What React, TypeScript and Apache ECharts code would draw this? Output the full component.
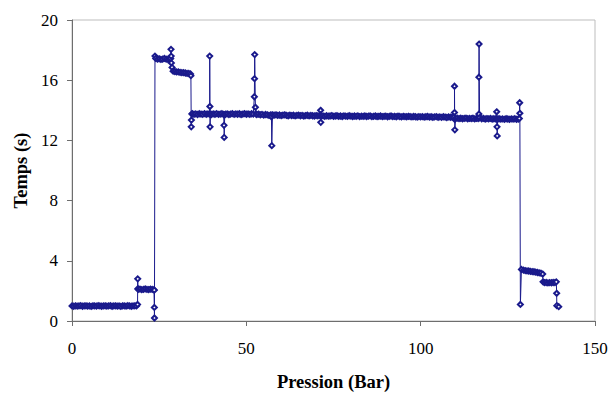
import React, { useEffect, useRef } from "react";
import * as echarts from "echarts";

// [pression (Bar), temps (s)]
const lowPlateau: number[][] = [
  [0, 1.0], [0.5, 0.98], [1, 1.01], [1.5, 0.99], [2, 1.0], [2.5, 1.02], [3, 0.98], [3.5, 1.0], [4, 1.01], [4.5, 0.99],
  [5, 1.0], [5.5, 0.97], [6, 1.01], [6.5, 1.0], [7, 0.99], [7.5, 1.02], [8, 1.0], [8.5, 0.98], [9, 1.0], [9.5, 1.01],
  [10, 0.99], [10.5, 1.0], [11, 1.02], [11.5, 0.98], [12, 1.0], [12.5, 1.01], [13, 0.99], [13.5, 1.0], [14, 0.97], [14.5, 1.01],
  [15, 1.0], [15.5, 0.99], [16, 1.02], [16.5, 1.0], [17, 0.98], [17.5, 1.0], [18, 1.01], [18.5, 1.0], [18.8, 1.1],
];

const secondPlateau: number[][] = [
  [18.85, 2.8], [18.9, 2.15], [19, 2.1], [19.5, 2.12], [20, 2.08], [20.5, 2.1], [21, 2.13], [21.5, 2.1], [22, 2.09],
  [22.5, 2.12], [23, 2.1], [23.5, 2.08], [23.6, 2.05], [23.62, 0.9], [23.65, 0.2],
];

const highPlateau: number[][] = [
  [23.8, 17.6], [24, 17.45], [24.5, 17.4], [25, 17.42], [25.5, 17.38], [26, 17.4], [26.5, 17.45], [27, 17.4], [27.5, 17.38],
  [28, 17.4], [28.3, 17.45], [28.4, 18.05], [28.45, 17.6], [28.5, 17.15], [28.7, 16.85], [29, 16.6],
  [29.5, 16.58], [30, 16.55], [30.5, 16.55], [31, 16.52], [31.5, 16.5], [32, 16.5], [32.5, 16.48], [33, 16.45], [33.5, 16.45],
  [34, 16.42], [34.1, 16.3], [34.2, 12.9], [34.25, 13.35], [34.4, 13.75],
];

const mainPlateauA: number[][] = [
  [34.5, 13.78], [35, 13.74], [35.5, 13.76], [36, 13.72], [36.5, 13.77], [37, 13.75], [37.5, 13.73], [38, 13.78], [38.5, 13.74], [39, 13.76],
  [39.5, 13.75], [39.5, 17.6], [39.55, 14.25], [39.6, 12.9], [39.7, 13.75],
  [40, 13.72], [40.5, 13.76], [41, 13.74], [41.5, 13.78], [42, 13.73], [42.5, 13.75], [43, 13.77], [43.5, 13.72],
  [43.6, 13.0], [43.65, 12.2], [43.8, 13.7],
  [44, 13.74], [44.5, 13.76], [45, 13.72], [45.5, 13.75], [46, 13.78], [46.5, 13.73], [47, 13.76], [47.5, 13.74], [48, 13.77],
  [48.5, 13.72], [49, 13.75], [49.5, 13.78], [50, 13.74], [50.5, 13.76], [51, 13.73], [51.5, 13.77], [52, 13.75],
  [52.3, 14.9], [52.35, 16.1], [52.4, 17.7], [52.6, 14.2], [52.8, 13.75],
  [53, 13.72], [53.5, 13.75], [54, 13.7], [54.5, 13.73], [55, 13.68], [55.5, 13.72], [56, 13.7], [56.5, 13.66], [57, 13.7],
  [57.2, 13.57], [57.3, 11.65], [57.5, 13.7],
];

const mainPlateauB: number[][] = [
  [58, 13.68], [58.5, 13.7], [59, 13.66], [59.5, 13.69], [60, 13.65], [60.5, 13.68], [61, 13.7], [61.5, 13.66], [62, 13.64],
  [62.5, 13.68], [63, 13.65], [63.5, 13.67], [64, 13.63], [64.5, 13.66], [65, 13.68], [65.5, 13.64], [66, 13.66], [66.5, 13.62],
  [67, 13.65], [67.5, 13.67], [68, 13.63], [68.5, 13.66], [69, 13.64], [69.5, 13.62], [70, 13.65], [70.5, 13.63], [71, 13.66],
  [71.3, 14.0], [71.35, 13.2], [71.5, 13.63],
  [72, 13.63], [72.5, 13.6], [73, 13.64], [73.5, 13.61], [74, 13.62], [74.5, 13.65], [75, 13.6], [75.5, 13.62], [76, 13.64], [76.5, 13.6],
  [77, 13.62], [77.5, 13.59], [78, 13.63], [78.5, 13.61], [79, 13.6], [79.5, 13.64], [80, 13.61], [80.5, 13.59], [81, 13.62], [81.5, 13.6],
  [82, 13.63], [82.5, 13.58], [83, 13.61], [83.5, 13.6], [84, 13.62], [84.5, 13.59], [85, 13.61], [85.5, 13.63], [86, 13.58], [86.5, 13.6],
  [87, 13.62], [87.5, 13.59], [88, 13.6], [88.5, 13.62], [89, 13.58], [89.5, 13.6], [90, 13.61], [90.5, 13.57], [91, 13.6], [91.5, 13.62],
  [92, 13.58], [92.5, 13.6], [93, 13.57], [93.5, 13.61], [94, 13.59], [94.5, 13.56], [95, 13.6], [95.5, 13.58], [96, 13.57], [96.5, 13.6],
  [97, 13.58], [97.5, 13.56], [98, 13.59], [98.5, 13.57], [99, 13.55], [99.5, 13.58], [100, 13.56], [100.5, 13.58], [101, 13.55], [101.5, 13.57],
  [102, 13.59], [102.5, 13.55], [103, 13.57], [103.5, 13.54], [104, 13.56], [104.5, 13.58], [105, 13.54], [105.5, 13.56], [106, 13.53], [106.5, 13.57],
  [107, 13.55], [107.5, 13.52], [108, 13.56], [108.5, 13.54], [109, 13.55], [109.5, 13.53],
];

const mainPlateauC: number[][] = [
  [109.7, 13.85], [109.7, 15.6], [109.75, 13.4], [109.8, 12.7], [110, 13.45],
  [110.5, 13.48], [111, 13.45], [111.5, 13.47], [112, 13.44], [112.5, 13.46], [113, 13.48], [113.5, 13.44], [114, 13.46], [114.5, 13.45],
  [115, 13.47], [115.5, 13.43], [116, 13.46], [116.5, 13.45],
  [116.7, 13.75], [116.7, 16.2], [116.75, 18.4], [116.9, 13.5],
  [117.5, 13.44], [118, 13.46], [118.5, 13.42], [119, 13.45], [119.5, 13.43], [120, 13.46], [120.5, 13.42], [121, 13.44], [121.5, 13.43],
  [121.8, 13.9], [121.85, 13.4], [121.9, 12.9], [121.95, 12.3], [122.1, 13.42],
  [122.5, 13.44], [123, 13.41], [123.5, 13.43], [124, 13.4], [124.5, 13.44], [125, 13.42], [125.5, 13.4], [126, 13.43], [126.5, 13.41],
  [127, 13.44], [127.5, 13.4], [128, 13.42], [128.3, 13.45], [128.4, 14.5], [128.45, 13.8], [128.6, 1.1],
];

const tailPlateaus: number[][] = [
  [128.9, 3.43], [129.5, 3.38], [130, 3.35], [130.5, 3.33], [131, 3.32], [131.5, 3.3], [132, 3.28], [132.5, 3.27], [133, 3.25],
  [133.5, 3.22], [134, 3.2], [134.5, 3.18], [135, 3.12], [135.1, 2.6],
  [135.5, 2.55], [136, 2.56], [136.5, 2.53], [137, 2.55], [137.5, 2.54], [138, 2.56], [138.5, 2.55], [138.9, 2.6],
  [139, 1.84], [139.05, 1.02], [139.6, 0.95],
];

const xTicks = { min: 0, max: 150, interval: 50 };
const yTicks = { min: 0, max: 20, interval: 4 };

const seriesData = [
  ...lowPlateau,
  ...secondPlateau,
  ...highPlateau,
  ...mainPlateauA,
  ...mainPlateauB,
  ...mainPlateauC,
  ...tailPlateaus,
];

const SERIF = "'Liberation Serif', 'Times New Roman', serif";

export default function App() {
  const ref = useRef<HTMLDivElement>(null);
  useEffect(() => {
    if (!ref.current) return;
    const chart = echarts.init(ref.current, undefined, { renderer: "svg" });
    chart.setOption({
      animation: false,
      backgroundColor: "#ffffff",
      grid: {
        left: 72,
        right: 14,
        top: 20,
        bottom: 73,
        containLabel: false,
        outerBoundsMode: "none",
        show: true,
        borderColor: "#bdbdbd",
        borderWidth: 1,
        backgroundColor: "transparent",
      },
      xAxis: {
        type: "value",
        min: xTicks.min,
        max: xTicks.max,
        interval: xTicks.interval,
        name: "Pression (Bar)",
        nameLocation: "middle",
        nameGap: 51,
        nameTextStyle: { fontFamily: SERIF, fontSize: 18.5, fontWeight: "bold", color: "#000" },
        axisLine: { show: true, onZero: false, lineStyle: { color: "#6e6e6e", width: 1 } },
        axisTick: { show: true, inside: false, length: 5, lineStyle: { color: "#6e6e6e" } },
        axisLabel: { fontFamily: SERIF, fontSize: 17, color: "#000", margin: 19 },
        splitLine: { show: false },
      },
      yAxis: {
        type: "value",
        min: yTicks.min,
        max: yTicks.max,
        interval: yTicks.interval,
        name: "Temps (s)",
        nameLocation: "middle",
        nameRotate: 90,
        nameGap: 39,
        nameTextStyle: { fontFamily: SERIF, fontSize: 18.5, fontWeight: "bold", color: "#000" },
        axisLine: { show: true, onZero: false, lineStyle: { color: "#6e6e6e", width: 1 } },
        axisTick: { show: true, inside: false, length: 5, lineStyle: { color: "#6e6e6e" } },
        axisLabel: { fontFamily: SERIF, fontSize: 17, color: "#000", margin: 14 },
        splitLine: { show: false },
      },
      series: [
        {
          type: "line",
          data: seriesData,
          symbol: "emptyDiamond",
          symbolSize: 5,
          showAllSymbol: true,
          lineStyle: { color: "#1a1a8c", width: 1 },
          itemStyle: { color: "#1a1a8c", borderWidth: 1 },
          emphasis: { disabled: true },
        },
      ],
    });
    return () => chart.dispose();
  }, []);
  return (
    <div
      ref={ref}
      style={{ position: "fixed", left: 0, top: 0, width: 609, height: 394, background: "#fff" }}
    />
  );
}
